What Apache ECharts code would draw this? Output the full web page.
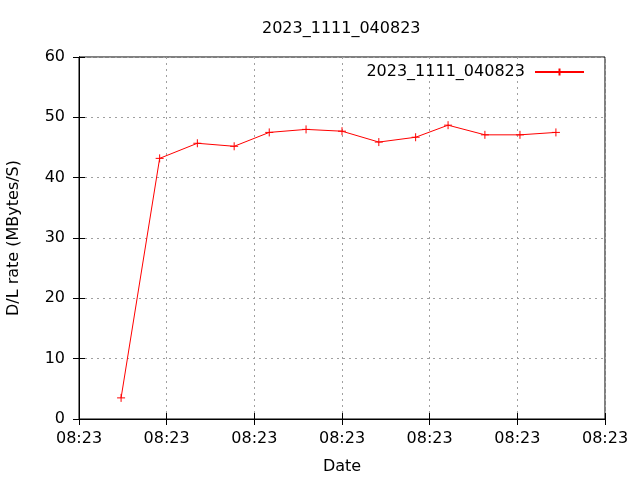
<!DOCTYPE html>
<html>
<head>
<meta charset="utf-8">
<script src="https://cdn.jsdelivr.net/npm/echarts@6/dist/echarts.min.js"></script>
<style>html,body{margin:0;padding:0;background:#fff;}#c{width:640px;height:480px;}</style>
</head>
<body>
<div id="c"></div>
<script>
const titleText = '2023_1111_040823';
const seriesName = '2023_1111_040823';
const xTickLabel = '08:23';
const xSeconds = [4.8, 9.2, 13.5, 17.7, 21.7, 25.9, 30.0, 34.2, 38.4, 42.1, 46.3, 50.3, 54.4];
const rates = [3.5, 43.2, 45.7, 45.2, 47.5, 48.0, 47.7, 45.9, 46.7, 48.7, 47.1, 47.1, 47.5];

const font = 'DejaVu Sans';
const plus = 'path://M0,4L8,4M4,0L4,8';
const chart = echarts.init(document.getElementById('c'), null, {renderer: 'canvas'});
const gridLine = {show: true, lineStyle: {color: '#a0a0a0', type: [2, 4], width: 1}};
const tick = {show: true, inside: true, length: 6, lineStyle: {color: '#000'}};
chart.setOption({
  animation: false,
  backgroundColor: '#fff',
  title: {text: titleText, left: 262, top: 21, padding: 0,
    textStyle: {fontFamily: font, fontSize: 16, fontWeight: 'normal', color: '#000'}},
  legend: {right: 55, top: 62, padding: 0, align: 'right', itemWidth: 49, itemHeight: 9,
    formatter: n => n + ' ',
    textStyle: {fontFamily: font, fontSize: 16, color: '#000', lineHeight: 20}},
  grid: {left: 79, right: 35, top: 57, bottom: 61, show: true, borderColor: '#000', borderWidth: 1,
    containLabel: false, outerBoundsMode: 'none'},
  xAxis: [{type: 'value', min: 0, max: 60, interval: 10,
    name: 'Date', nameLocation: 'middle', nameGap: 40,
    nameTextStyle: {fontFamily: font, fontSize: 16, color: '#000'},
    axisLine: {show: true, lineStyle: {color: '#000'}},
    axisTick: tick, splitLine: gridLine,
    axisLabel: {margin: 12, fontFamily: font, fontSize: 16, color: '#000', formatter: () => xTickLabel}},
   {type: 'value', position: 'top', min: 0, max: 60, interval: 10,
    axisLine: {show: true, lineStyle: {color: '#000'}}, axisTick: tick,
    axisLabel: {show: false}, splitLine: {show: false}}],
  yAxis: [{type: 'value', min: 0, max: 60, interval: 10,
    name: 'D/L rate (MBytes/S)', nameLocation: 'middle', nameGap: 57,
    nameTextStyle: {fontFamily: font, fontSize: 16, color: '#000'},
    axisLine: {show: true, lineStyle: {color: '#000'}},
    axisTick: tick, splitLine: gridLine,
    axisLabel: {margin: 14, fontFamily: font, fontSize: 16, color: '#000'}},
   {type: 'value', position: 'right', min: 0, max: 60, interval: 10,
    axisLine: {show: true, lineStyle: {color: '#000'}}, axisTick: tick,
    axisLabel: {show: false}, splitLine: {show: false}}],
  series: [{name: seriesName, type: 'line',
    data: xSeconds.map((x, i) => [x, rates[i]]),
    symbol: plus, symbolSize: 8,
    lineStyle: {color: '#ff0000', width: 1},
    itemStyle: {color: '#ff0000', borderColor: '#ff0000', borderWidth: 1}}]
});
</script>
</body>
</html>
